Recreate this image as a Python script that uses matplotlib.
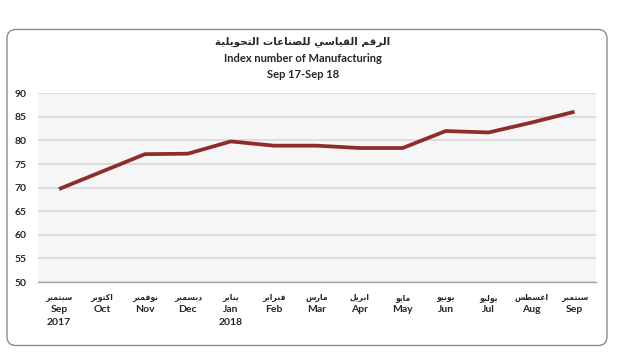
import matplotlib
matplotlib.use("Agg")
import matplotlib.pyplot as plt
from matplotlib.patches import FancyBboxPatch

# data
months_en = ["Sep", "Oct", "Nov", "Dec", "Jan", "Feb", "Mar", "Apr", "May", "Jun", "Jul", "Aug", "Sep"]
months_ar = ["سبتمبر", "اكتوبر", "نوفمبر", "ديسمبر", "يناير", "فبراير", "مارس",
             "ابريل", "مايو", "يونيو", "يوليو", "اغسطس", "سبتمبر"]
years = ["2017", "", "", "", "2018", "", "", "", "", "", "", "", ""]
index_values = [69.7, 73.4, 77.1, 77.2, 79.8, 78.9, 78.9, 78.4, 78.4, 82.0, 81.7, 83.8, 86.1]
y_ticks = [50, 55, 60, 65, 70, 75, 80, 85, 90]

title_ar = "الرقم القياسي للصناعات التحويلية"
title_en = "Index number of Manufacturing"
subtitle = "Sep 17-Sep 18"

# matplotlib does no Arabic shaping, so pick presentation forms by hand
# (isolated code point, joins to the following letter)
AR_FORMS = {
    "ا": (0xFE8D, False), "ب": (0xFE8F, True), "ة": (0xFE93, False), "ت": (0xFE95, True),
    "ح": (0xFEA1, True), "د": (0xFEA9, False), "ر": (0xFEAD, False), "س": (0xFEB1, True),
    "ص": (0xFEB9, True), "ط": (0xFEC1, True), "ع": (0xFEC9, True), "غ": (0xFECD, True),
    "ف": (0xFED1, True), "ق": (0xFED5, True), "ك": (0xFED9, True), "ل": (0xFEDD, True),
    "م": (0xFEE1, True), "ن": (0xFEE5, True), "و": (0xFEED, False), "ي": (0xFEF1, True),
}


def shape_ar(text):
    out = []
    for i, c in enumerate(text):
        if c not in AR_FORMS:
            out.append(c)
            continue
        base, dual = AR_FORMS[c]
        prev = text[i - 1] if i > 0 else ""
        nxt = text[i + 1] if i + 1 < len(text) else ""
        joins_prev = prev in AR_FORMS and AR_FORMS[prev][1]
        joins_next = dual and nxt in AR_FORMS
        if joins_prev and joins_next:
            code = base + 3
        elif joins_prev:
            code = base + 1
        elif joins_next:
            code = base + 2
        else:
            code = base
        out.append(chr(code))
    return "".join(out)[::-1]


EN_FONT = ["Lato", "DejaVu Sans"]
AR_FONT = ["DejaVu Sans"]
TXT = "#262626"

fig = plt.figure(figsize=(6.2, 3.55), dpi=100)

# rounded outer frame, drawn in pixel coordinates
bg = fig.add_axes([0, 0, 1, 1])
bg.set_xlim(0, 620)
bg.set_ylim(355, 0)
bg.axis("off")
bg.add_patch(FancyBboxPatch((7, 29.5), 600, 316, boxstyle="round,pad=0,rounding_size=9",
                            facecolor="white", edgecolor="#8c8c8c", linewidth=1.0))

bg.text(303, 42, shape_ar(title_ar), ha="center", va="center", fontsize=7.5,
        fontweight="bold", family=AR_FONT, color=TXT)
bg.text(303, 58.5, title_en, ha="center", va="center", fontsize=8,
        fontweight="bold", family=EN_FONT, color=TXT)
bg.text(303, 74, subtitle, ha="center", va="center", fontsize=8,
        fontweight="bold", family=EN_FONT, color=TXT)

ax = fig.add_axes([37.5 / 620, 1 - 282 / 355, (596 - 37.5) / 620, (282 - 93.3) / 355])
ax.set_facecolor("#f6f6f6")
x = list(range(len(months_en)))
ax.plot(x, index_values, color="#8E2C2C", linewidth=2.7, solid_capstyle="butt", zorder=3)

ax.set_xlim(-0.5, 12.5)
ax.set_ylim(50, 90)
ax.set_yticks(y_ticks)
ax.set_yticklabels([str(v) for v in y_ticks], fontsize=7.5, fontweight="bold",
                   family=EN_FONT, color=TXT)
ax.tick_params(axis="y", length=0, pad=8)
ax.set_xticks([])
ax.grid(axis="y", color="#d9d9d9", linewidth=1.2, zorder=1)
for s in ["top", "right", "left"]:
    ax.spines[s].set_visible(False)
ax.spines["bottom"].set_color("#a6a6a6")
ax.spines["bottom"].set_linewidth(1.0)

tr = ax.get_xaxis_transform()
for i in x:
    ax.text(i, -0.083, shape_ar(months_ar[i]), transform=tr, ha="center", va="center",
            fontsize=5.5, fontweight="bold", family=AR_FONT, color=TXT)
    ax.text(i, -0.148, months_en[i], transform=tr, ha="center", va="center",
            fontsize=7.5, fontweight="bold", family=EN_FONT, color=TXT)
    if years[i]:
        ax.text(i, -0.216, years[i], transform=tr, ha="center", va="center",
                fontsize=7.5, fontweight="bold", family=EN_FONT, color=TXT)

fig.savefig("out.png", dpi=100)
